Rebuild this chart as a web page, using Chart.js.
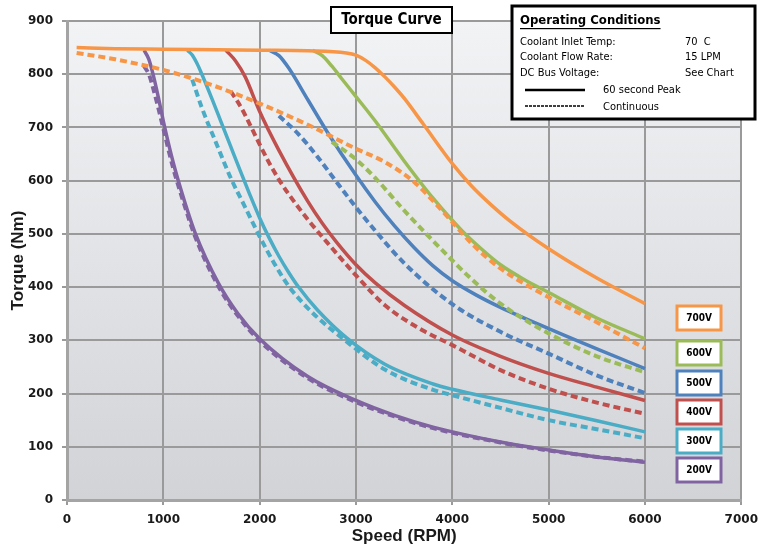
<!DOCTYPE html>
<html lang="en">
<head>
    <meta charset="UTF-8">
    <title>Torque Curve</title>
    <style>
        body { margin: 0; background: #ffffff; }
        #wrap { position: relative; width: 766px; height: 547px; }
    </style>
</head>
<body>
    <div id="wrap">
        <canvas id="myChart"></canvas>
    </div>
</body>
<script src="https://cdn.jsdelivr.net/npm/chart.js@4.4.0/dist/chart.umd.min.js"></script>
<script>
    // speed (rpm) and torque (Nm)
    var rpm700p = [100, 500, 1000, 2000, 2500, 2900, 3000, 3100, 3200, 3300, 3400, 3500, 3700, 4000, 4200, 4400, 4600, 5000, 5500, 6000];
    var nm700p  = [850, 848, 847, 845, 844, 840, 836, 826, 812, 795, 776, 755, 706, 632, 590, 555, 524, 472, 417, 369];
    var rpm700c = [100, 500, 1000, 1500, 2000, 2500, 3000, 3300, 3600, 3800, 4000, 4200, 4500, 5000, 5500, 6000];
    var nm700c  = [840, 828, 808, 780, 745, 705, 660, 635, 598, 562, 522, 482, 435, 381, 334, 285];

    var rpm600p = [2550, 2650, 2750, 2850, 3000, 3200, 3500, 3800, 4100, 4300, 4500, 4750, 5000, 5500, 6000];
    var nm600p  = [845, 835, 815, 792, 758, 712, 637, 567, 506, 472, 442, 414, 390, 342, 303];
    var rpm600c = [2750, 3000, 3200, 3500, 3800, 4200, 4500, 5000, 5500, 6000];
    var nm600c  = [673, 640, 605, 544, 487, 415, 369, 313, 270, 240];

    var rpm500p = [2100, 2200, 2300, 2500, 2700, 3000, 3200, 3400, 3600, 3800, 4000, 4250, 4500, 5000, 5500, 6000];
    var nm500p  = [845, 835, 812, 752, 692, 610, 560, 515, 475, 440, 412, 385, 362, 322, 284, 247];
    var rpm500c = [2200, 2400, 2600, 2800, 3000, 3200, 3500, 4000, 4500, 5000, 5500, 6000];
    var nm500c  = [722, 688, 645, 597, 550, 506, 445, 368, 316, 275, 234, 201];

    var rpm400p = [1650, 1750, 1850, 2000, 2200, 2500, 2650, 2800, 3000, 3200, 3500, 4000, 4500, 5000, 5500, 6000];
    var nm400p  = [845, 825, 795, 730, 657, 561, 520, 484, 442, 408, 366, 310, 270, 238, 212, 187];
    var rpm400c = [1700, 1800, 1900, 2000, 2100, 2200, 2300, 2500, 2700, 3000, 3300, 3700, 4000, 4200, 4500, 5000, 5500, 6000];
    var nm400c  = [768, 740, 705, 668, 633, 602, 575, 527, 484, 422, 366, 318, 291, 272, 244, 209, 183, 162];

    var rpm300p = [1250, 1300, 1350, 1400, 1500, 1600, 1700, 1800, 1900, 2000, 2100, 2200, 2300, 2400, 2600, 2900, 3300, 3800, 4000, 4500, 5000, 5500, 6000];
    var nm300p  = [845, 836, 820, 800, 756, 710, 664, 618, 573, 530, 492, 458, 428, 401, 357, 305, 255, 218, 208, 188, 169, 149, 128];
    var rpm300c = [1300, 1400, 1550, 1700, 1850, 2000, 2150, 2300, 2450, 2600, 2900, 3300, 3800, 4000, 4500, 5000, 5500, 6000];
    var nm300c  = [790, 737, 670, 605, 550, 495, 445, 402, 370, 343, 298, 245, 207, 197, 173, 150, 133, 116];

    var rpm200p = [800, 850, 900, 950, 1000, 1100, 1200, 1330, 1570, 1775, 2000, 2500, 3000, 3400, 3800, 4500, 5000, 5500, 6000];
    var nm200p  = [845, 828, 795, 755, 712, 636, 573, 502, 408, 350, 303, 232, 187, 159, 137, 109, 94, 81, 71];
    var rpm200c = [800, 850, 900, 950, 1000, 1100, 1200, 1330, 1570, 1775, 2000, 2500, 3000, 3400, 3800, 4500, 5000, 5500, 6000];
    var nm200c  = [815, 800, 770, 735, 698, 625, 565, 495, 402, 346, 299, 229, 184, 157, 135, 108, 93, 81, 72];

    var voltLabels = ['700V', '600V', '500V', '400V', '300V', '200V'];
    var voltColors = ['#F79646', '#9BBB59', '#4F81BD', '#C0504D', '#4BACC6', '#8064A2'];

    var xTicks = [0, 1000, 2000, 3000, 4000, 5000, 6000, 7000];
    var yTicks = [0, 100, 200, 300, 400, 500, 600, 700, 800, 900];

    function pts(xs, ys) {
        return xs.map(function (x, i) { return { x: x, y: ys[i] }; });
    }

    var curves = [
        [rpm700p, nm700p, rpm700c, nm700c],
        [rpm600p, nm600p, rpm600c, nm600c],
        [rpm500p, nm500p, rpm500c, nm500c],
        [rpm400p, nm400p, rpm400c, nm400c],
        [rpm300p, nm300p, rpm300c, nm300c],
        [rpm200p, nm200p, rpm200c, nm200c]
    ];

    var datasets = [];
    curves.forEach(function (c, i) {
        datasets.push({
            label: voltLabels[i] + ' peak',
            data: pts(c[0], c[1]),
            borderColor: voltColors[i],
            borderWidth: 3.5,
            pointRadius: 0,
            cubicInterpolationMode: 'monotone'
        });
        datasets.push({
            label: voltLabels[i] + ' continuous',
            data: pts(c[2], c[3]),
            borderColor: voltColors[i],
            borderWidth: 4,
            borderDash: [7, 4],
            pointRadius: 0,
            cubicInterpolationMode: 'monotone'
        });
    });

    var narrow = '"Liberation Sans Narrow", "DejaVu Sans Condensed", Arial, sans-serif';

    // plot background + text boxes
    var decor = {
        id: 'decor',
        beforeDraw: function (chart) {
            var a = chart.chartArea, ctx = chart.ctx;
            var g = ctx.createLinearGradient(0, a.top, 0, a.bottom);
            g.addColorStop(0, '#f2f3f5');
            g.addColorStop(1, '#d2d3d7');
            ctx.save();
            ctx.fillStyle = g;
            ctx.fillRect(a.left, a.top, a.right - a.left, a.bottom - a.top);
            ctx.restore();
        },
        afterDraw: function (chart) {
            var ctx = chart.ctx;
            ctx.save();

            // title box
            ctx.fillStyle = '#fff';
            ctx.fillRect(331, 7, 121, 26);
            ctx.lineWidth = 2;
            ctx.strokeStyle = '#000';
            ctx.strokeRect(331, 7, 121, 26);
            ctx.fillStyle = '#000';
            ctx.font = 'bold 15px ' + narrow;
            ctx.textAlign = 'center';
            ctx.textBaseline = 'middle';
            ctx.fillText('Torque Curve', 391.5, 20);

            // operating conditions box
            ctx.fillStyle = '#fff';
            ctx.fillRect(512, 6, 243, 113);
            ctx.lineWidth = 3;
            ctx.strokeRect(512, 6, 243, 113);
            ctx.fillStyle = '#000';
            ctx.textAlign = 'left';
            ctx.font = 'bold 13px ' + narrow;
            ctx.fillText('Operating Conditions', 520, 21);
            var w = ctx.measureText('Operating Conditions').width;
            ctx.fillRect(520, 28, w, 1.2);
            ctx.font = '11px ' + narrow;
            ctx.fillText('Coolant Inlet Temp:', 520, 42);
            ctx.fillText('Coolant Flow Rate:', 520, 57);
            ctx.fillText('DC Bus Voltage:', 520, 73);
            ctx.fillText('70  C', 685, 42);
            ctx.fillText('15 LPM', 685, 57);
            ctx.fillText('See Chart', 685, 73);
            ctx.fillText('60 second Peak', 603, 90);
            ctx.fillText('Continuous', 603, 107);
            ctx.lineWidth = 2.5;
            ctx.beginPath();
            ctx.moveTo(525, 90);
            ctx.lineTo(585, 90);
            ctx.stroke();
            ctx.lineWidth = 1.5;
            ctx.setLineDash([3, 1]);
            ctx.beginPath();
            ctx.moveTo(525, 106);
            ctx.lineTo(585, 106);
            ctx.stroke();
            ctx.setLineDash([]);

            // voltage label boxes
            var tops = [306, 341, 371, 400, 429, 458];
            ctx.textAlign = 'center';
            ctx.font = 'bold 10px ' + narrow;
            voltLabels.forEach(function (lab, i) {
                ctx.fillStyle = '#fff';
                ctx.fillRect(677, tops[i], 44, 24);
                ctx.lineWidth = 3;
                ctx.strokeStyle = voltColors[i];
                ctx.strokeRect(677, tops[i], 44, 24);
                ctx.fillStyle = '#000';
                ctx.fillText(lab, 699, tops[i] + 12.5);
            });
            ctx.restore();
        }
    };

    var tickFont = { family: 'DejaVu Sans', size: 12, weight: 'bold' };
    var titleFont = { family: 'Liberation Sans', size: 17, weight: 'bold' };

    var ctx = document.getElementById('myChart').getContext('2d');
    var myChart = new Chart(ctx, {
        type: 'line',
        data: { datasets: datasets },
        plugins: [decor],
        options: {
            responsive: true,
            maintainAspectRatio: false,
            animation: false,
            layout: { padding: { left: 0, top: 21, right: 17, bottom: 0 } },
            plugins: {
                legend: { display: false },
                tooltip: { enabled: false }
            },
            scales: {
                x: {
                    type: 'linear',
                    min: 0,
                    max: 7000,
                    afterBuildTicks: function (s) { s.ticks = xTicks.map(function (v) { return { value: v }; }); },
                    afterFit: function (s) { s.height = 47; },
                    grid: { color: '#9a9a9a', lineWidth: 2, tickLength: 5 },
                    border: { color: '#a4a4a4', width: 3 },
                    ticks: {
                        padding: 8,
                        color: '#1a1a1a',
                        font: tickFont,
                        callback: function (v) { return String(v); }
                    },
                    title: {
                        display: true,
                        text: 'Speed (RPM)',
                        color: '#1a1a1a',
                        padding: { top: 0, bottom: 0 },
                        font: titleFont
                    }
                },
                y: {
                    min: 0,
                    max: 900,
                    afterBuildTicks: function (s) { s.ticks = yTicks.map(function (v) { return { value: v }; }); },
                    afterFit: function (s) { s.width = 67; },
                    grid: { color: '#9a9a9a', lineWidth: 2, tickLength: 5 },
                    border: { color: '#a4a4a4', width: 3 },
                    ticks: {
                        padding: 9,
                        color: '#1a1a1a',
                        font: tickFont,
                        callback: function (v) { return String(v); }
                    },
                    title: {
                        display: true,
                        text: 'Torque (Nm)',
                        color: '#1a1a1a',
                        padding: { top: 8, bottom: 0 },
                        font: titleFont
                    }
                }
            }
        }
    });
</script>
</html>
